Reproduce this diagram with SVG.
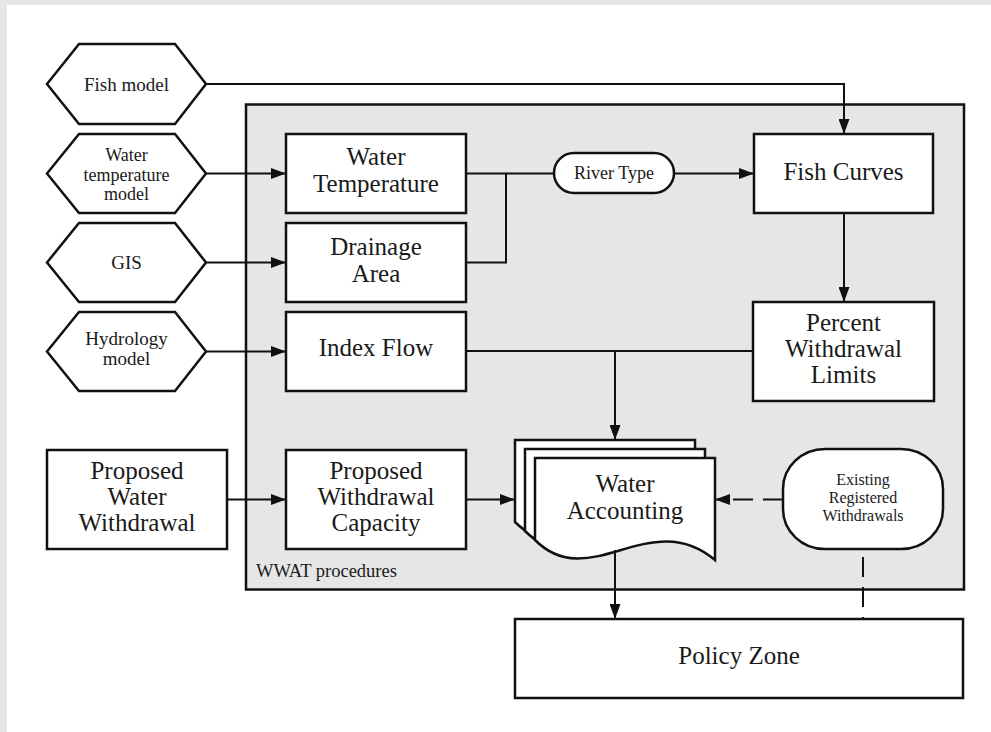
<svg xmlns="http://www.w3.org/2000/svg" width="991" height="732" viewBox="0 0 991 732">
  <defs>
    <marker id="arrow" markerUnits="userSpaceOnUse" markerWidth="15" markerHeight="11" refX="15" refY="5.5" orient="auto">
      <path d="M0,0 L15,5.5 L0,11 Z" fill="#111"/>
    </marker>
    <style>
      .shape { fill: #ffffff; stroke: #111; stroke-width: 2.5; }
      .panel { fill: #e6e6e6; stroke: #111; stroke-width: 2.5; }
      .wire { fill: none; stroke: #111; stroke-width: 2; }
      .arrow { marker-end: url(#arrow); }
      .dash { stroke-dasharray: 20 10; }
      text { font-family: "Liberation Serif", "Times New Roman", serif; fill: #1a1a1a; text-anchor: middle; }
      .big { font-size: 25px; }
      .mid { font-size: 19px; }
      .tight { font-size: 18px; }
      .small { font-size: 18px; }
      .tiny { font-size: 16px; }
      .note { font-size: 18.5px; text-anchor: start; }
    </style>
  </defs>

  <!-- page background -->
  <rect x="0" y="0" width="991" height="732" fill="#e6e6e6"/>
  <rect x="7" y="5" width="984" height="727" fill="#ffffff"/>

  <!-- WWAT procedures container -->
  <g id="wwat-panel">
    <rect class="panel" x="246" y="104.5" width="718" height="485"/>
    <text class="note" x="256" y="577">WWAT procedures</text>
  </g>

  <!-- external models -->
  <g id="fish-model">
    <polygon class="shape" points="47,84 79,44 175,44 206,84 175,124 79,124"/>
    <text class="mid" x="126.5" y="91">Fish model</text>
  </g>
  <g id="water-temperature-model">
    <polygon class="shape" points="47,173.5 79,134 175,134 206,173.5 175,213 79,213"/>
    <text class="tight" x="126.5" y="161">Water</text>
    <text class="tight" x="126.5" y="180.5">temperature</text>
    <text class="tight" x="126.5" y="200">model</text>
  </g>
  <g id="gis">
    <polygon class="shape" points="47,262.5 79,223 175,223 206,262.5 175,302 79,302"/>
    <text class="mid" x="126.5" y="269">GIS</text>
  </g>
  <g id="hydrology-model">
    <polygon class="shape" points="47,351.5 79,312 175,312 206,351.5 175,391 79,391"/>
    <text class="mid" x="126.5" y="345">Hydrology</text>
    <text class="mid" x="126.5" y="365">model</text>
  </g>
  <g id="proposed-water-withdrawal">
    <rect class="shape" x="47" y="450" width="180" height="99"/>
    <text class="big" x="137" y="479">Proposed</text>
    <text class="big" x="137" y="505">Water</text>
    <text class="big" x="137" y="531">Withdrawal</text>
  </g>

  <!-- procedure steps -->
  <g id="water-temperature">
    <rect class="shape" x="286" y="134" width="180" height="79"/>
    <text class="big" x="376" y="165">Water</text>
    <text class="big" x="376" y="192">Temperature</text>
  </g>
  <g id="drainage-area">
    <rect class="shape" x="286" y="223" width="180" height="79"/>
    <text class="big" x="376" y="255">Drainage</text>
    <text class="big" x="376" y="282">Area</text>
  </g>
  <g id="index-flow">
    <rect class="shape" x="286" y="312" width="180" height="79"/>
    <text class="big" x="376" y="356">Index Flow</text>
  </g>
  <g id="proposed-withdrawal-capacity">
    <rect class="shape" x="286" y="450" width="180" height="99"/>
    <text class="big" x="376" y="479">Proposed</text>
    <text class="big" x="376" y="505">Withdrawal</text>
    <text class="big" x="376" y="531">Capacity</text>
  </g>
  <g id="river-type">
    <rect class="shape" x="554" y="153" width="120" height="40" rx="20" ry="20"/>
    <text class="small" x="614" y="179">River Type</text>
  </g>
  <g id="fish-curves">
    <rect class="shape" x="754" y="134" width="179" height="79"/>
    <text class="big" x="843.5" y="180">Fish Curves</text>
  </g>
  <g id="percent-withdrawal-limits">
    <rect class="shape" x="753" y="302" width="181" height="99"/>
    <text class="big" x="843.5" y="331">Percent</text>
    <text class="big" x="843.5" y="357">Withdrawal</text>
    <text class="big" x="843.5" y="383">Limits</text>
  </g>
  <g id="water-accounting">
    <path class="shape" d="M515,440 H695 V542 C630,487 570,577 515,522 Z"/>
    <path class="shape" d="M525,449 H705 V551 C640,496 580,586 525,531 Z"/>
    <path class="shape" d="M535,458 H715 V560 C650,505 590,595 535,540 Z"/>
    <text class="big" x="625" y="492">Water</text>
    <text class="big" x="625" y="519">Accounting</text>
  </g>
  <g id="existing-registered-withdrawals">
    <rect class="shape" x="783" y="449" width="160" height="100" rx="42" ry="40"/>
    <text class="tiny" x="863" y="485">Existing</text>
    <text class="tiny" x="863" y="503">Registered</text>
    <text class="tiny" x="863" y="521">Withdrawals</text>
  </g>
  <g id="policy-zone">
    <rect class="shape" x="515" y="619" width="448" height="79"/>
    <text class="big" x="739" y="664">Policy Zone</text>
  </g>

  <!-- connectors -->
  <g id="connectors">
    <path class="wire arrow" d="M206,84 H844 V134"/>
    <path class="wire arrow" d="M206,173.5 H286"/>
    <path class="wire arrow" d="M206,262.5 H286"/>
    <path class="wire arrow" d="M206,351.5 H286"/>
    <path class="wire arrow" d="M227,499.5 H286"/>
    <path class="wire" d="M466,173.5 H554"/>
    <path class="wire" d="M466,262.5 H506 V173.5"/>
    <path class="wire arrow" d="M674,173.5 H754"/>
    <path class="wire arrow" d="M844,213 V302"/>
    <path class="wire" d="M466,351 H753"/>
    <path class="wire arrow" d="M615,351 V440"/>
    <path class="wire arrow" d="M466,499.5 H515"/>
    <path class="wire arrow dash" d="M783,499.5 H715"/>
    <path class="wire arrow" d="M615,550 V619"/>
    <path class="wire dash" d="M863,549 V619" stroke-dashoffset="-8"/>
  </g>
</svg>
